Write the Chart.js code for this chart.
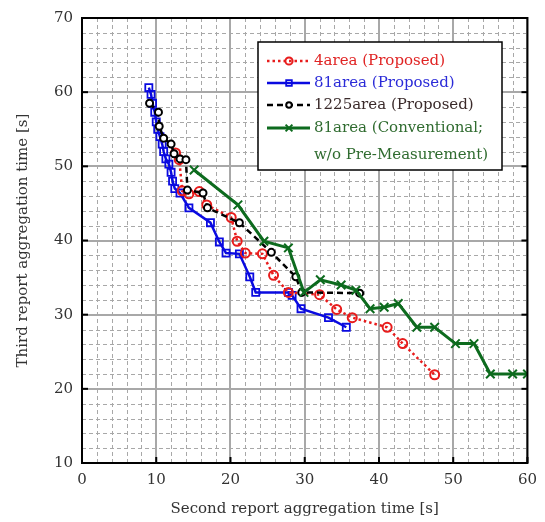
<!DOCTYPE html>
<html>
<head>
<meta charset="utf-8">
<script src="https://cdn.jsdelivr.net/npm/chart.js@4.4.0/dist/chart.umd.min.js"></script>
<style>
  html, body { margin: 0; padding: 0; background: #fff; }
</style>
</head>
<body>
<canvas id="chart" width="545" height="522"></canvas>
<script>
// Second vs third report aggregation time
const seriesNames = ["4area (Proposed)", "81area (Proposed)", "1225area (Proposed)", "81area (Conventional;", "w/o Pre-Measurement)"];

const area4X = [12.6, 13.1, 13.5, 14.4, 15.8, 16.8, 20.1, 20.9, 22.0, 24.3, 25.8, 27.8, 32.0, 34.3, 36.4, 41.1, 43.2, 47.5];
const area4Y = [51.8, 50.9, 46.7, 46.3, 46.6, 44.8, 43.1, 39.9, 38.3, 38.2, 35.3, 33.0, 32.7, 30.7, 29.6, 28.3, 26.1, 21.9];

const area81X = [9.0, 9.3, 9.5, 9.8, 10.0, 10.2, 10.5, 10.8, 11.0, 11.3, 11.7, 12.0, 12.2, 12.5, 13.2, 14.4, 17.3, 18.5, 19.4, 21.2, 22.6, 23.4, 27.8, 28.3, 29.5, 33.2, 35.6];
const area81Y = [60.6, 59.7, 58.5, 57.3, 56.0, 55.0, 54.0, 53.0, 52.0, 51.0, 50.3, 49.2, 48.0, 47.0, 46.4, 44.4, 42.4, 39.8, 38.3, 38.2, 35.1, 33.0, 33.0, 32.6, 30.8, 29.6, 28.3];

const area1225X = [9.1, 10.3, 10.4, 11.0, 12.0, 12.4, 13.2, 14.0, 14.2, 16.3, 16.9, 21.2, 25.5, 28.8, 29.6, 37.4];
const area1225Y = [58.5, 57.3, 55.4, 53.8, 53.0, 51.7, 51.0, 50.9, 46.8, 46.4, 44.4, 42.4, 38.4, 35.1, 33.0, 32.9];

const convX = [15.1, 21.0, 24.5, 27.8, 29.9, 32.1, 34.9, 36.9, 38.8, 40.7, 42.6, 45.1, 47.5, 50.3, 52.8, 55.0, 58.0, 60.0];
const convY = [49.5, 44.8, 39.9, 39.0, 33.0, 34.7, 34.0, 33.3, 30.8, 31.0, 31.5, 28.3, 28.3, 26.1, 26.1, 22.0, 22.0, 22.0];

const xTicks = [0, 10, 20, 30, 40, 50, 60];
const yTicks = [10, 20, 30, 40, 50, 60, 70];

const toPoints = (xs, ys) => xs.map((x, i) => ({ x: x, y: ys[i] }));

const FONT = "'DejaVu Serif', serif";

// dashed minor grid, black frame with inward ticks, legend box
const framePlugin = {
  id: "frame",
  beforeDatasetsDraw(chart) {
    const { ctx, chartArea: a, scales } = chart;
    ctx.save();
    ctx.strokeStyle = "#a8a8a8";
    ctx.lineWidth = 1;
    ctx.setLineDash([4, 3]);
    for (let v = 2; v < 60; v += 2) {
      if (v % 10 === 0) continue;
      const px = Math.round(scales.x.getPixelForValue(v)) + 0.5;
      ctx.beginPath(); ctx.moveTo(px, a.top); ctx.lineTo(px, a.bottom); ctx.stroke();
    }
    for (let v = 12; v < 70; v += 2) {
      if (v % 10 === 0) continue;
      const py = Math.round(scales.y.getPixelForValue(v)) + 0.5;
      ctx.beginPath(); ctx.moveTo(a.left, py); ctx.lineTo(a.right, py); ctx.stroke();
    }
    ctx.restore();
  },
  afterDraw(chart) {
    const { ctx, chartArea: a, scales } = chart;
    ctx.save();
    ctx.strokeStyle = "#000";
    ctx.lineWidth = 2;
    ctx.setLineDash([]);
    ctx.strokeRect(a.left, a.top, a.right - a.left, a.bottom - a.top);
    ctx.lineWidth = 2;
    xTicks.forEach(v => {
      const px = scales.x.getPixelForValue(v);
      ctx.beginPath(); ctx.moveTo(px, a.bottom); ctx.lineTo(px, a.bottom - 6); ctx.stroke();
    });
    yTicks.forEach(v => {
      const py = scales.y.getPixelForValue(v);
      ctx.beginPath(); ctx.moveTo(a.left, py); ctx.lineTo(a.left + 6, py); ctx.stroke();
      ctx.beginPath(); ctx.moveTo(a.right, py); ctx.lineTo(a.right - 6, py); ctx.stroke();
    });

    // legend
    const bx = 258, by = 42, bw = 244, bh = 128;
    ctx.fillStyle = "#fff";
    ctx.fillRect(bx, by, bw, bh);
    ctx.lineWidth = 1.5;
    ctx.strokeRect(bx, by, bw, bh);
    const rows = [61, 83, 105, 128];
    const textColors = ["#e02424", "#2b2bd8", "#3a2a2a", "#2f6b2f"];
    ctx.font = "15px " + FONT;
    ctx.textBaseline = "middle";
    chart.data.datasets.forEach((ds, i) => {
      const y = rows[i];
      ctx.strokeStyle = ds.borderColor;
      ctx.lineWidth = ds.borderWidth;
      ctx.setLineDash(ds.borderDash || []);
      ctx.beginPath(); ctx.moveTo(267, y); ctx.lineTo(310, y); ctx.stroke();
      ctx.setLineDash([]);
      ctx.lineWidth = ds.pointBorderWidth;
      ctx.fillStyle = ds.pointBackgroundColor;
      Chart.helpers.drawPoint(ctx, {
        pointStyle: ds.pointStyle, radius: ds.pointRadius * 0.8, borderWidth: ds.pointBorderWidth
      }, 289, y);
      ctx.fillStyle = textColors[i];
      ctx.fillText(ds.label, 314, y);
    });
    ctx.fillStyle = textColors[3];
    ctx.fillText(seriesNames[4], 314, 155);
    ctx.restore();
  }
};

new Chart(document.getElementById("chart").getContext("2d"), {
  type: "scatter",
  data: {
    datasets: [
      {
        label: seriesNames[0], data: toPoints(area4X, area4Y), showLine: true,
        borderColor: "#e81c1c", borderWidth: 2.5, borderDash: [2.5, 3],
        pointStyle: "circle", pointRadius: 4.5, pointBorderWidth: 2,
        pointBackgroundColor: "rgba(255,255,255,0)", pointBorderColor: "#e81c1c", order: 3
      },
      {
        label: seriesNames[1], data: toPoints(area81X, area81Y), showLine: true,
        borderColor: "#0a0ae0", borderWidth: 2.5,
        pointStyle: "rect", pointRadius: 5, pointBorderWidth: 1.8,
        pointBackgroundColor: "rgba(255,255,255,0)", pointBorderColor: "#0a0ae0", order: 4
      },
      {
        label: seriesNames[2], data: toPoints(area1225X, area1225Y), showLine: true,
        borderColor: "#000", borderWidth: 2.5, borderDash: [6, 4],
        pointStyle: "circle", pointRadius: 3.5, pointBorderWidth: 2,
        pointBackgroundColor: "#fff", pointBorderColor: "#000", order: 2
      },
      {
        label: seriesNames[3], data: toPoints(convX, convY), showLine: true,
        borderColor: "#0d6b1e", borderWidth: 3,
        pointStyle: "crossRot", pointRadius: 6, pointBorderWidth: 2,
        pointBackgroundColor: "#0d6b1e", pointBorderColor: "#0d6b1e", order: 1
      }
    ]
  },
  options: {
    responsive: false,
    animation: false,
    devicePixelRatio: 1,
    layout: { padding: { top: 16, right: 15, left: 0, bottom: 0 } },
    plugins: { legend: { display: false }, tooltip: { enabled: false } },
    elements: { line: { tension: 0 } },
    scales: {
      x: {
        type: "linear", min: 0, max: 60,
        afterBuildTicks: s => { s.ticks = xTicks.map(v => ({ value: v })); },
        afterFit: s => { s.height = 59; },
        ticks: { color: "#333", font: { family: FONT, size: 15 }, padding: 8, maxRotation: 0 },
        grid: { color: "#a8a8a8", lineWidth: 2, drawTicks: false },
        border: { display: false },
        title: { display: true, text: "Second report aggregation time [s]", color: "#333",
                 font: { family: FONT, size: 15 }, padding: { top: 0, bottom: 4 } }
      },
      y: {
        type: "linear", min: 10, max: 70,
        afterBuildTicks: s => { s.ticks = yTicks.map(v => ({ value: v })); },
        afterFit: s => { s.width = 82; },
        ticks: { color: "#333", font: { family: FONT, size: 15 }, padding: 9 },
        grid: { color: "#a8a8a8", lineWidth: 2, drawTicks: false },
        border: { display: false },
        title: { display: true, text: "Third report aggregation time [s]", color: "#333",
                 font: { family: FONT, size: 15 }, padding: { top: 14, bottom: 0 } }
      }
    }
  },
  plugins: [framePlugin]
});
</script>
</body>
</html>
